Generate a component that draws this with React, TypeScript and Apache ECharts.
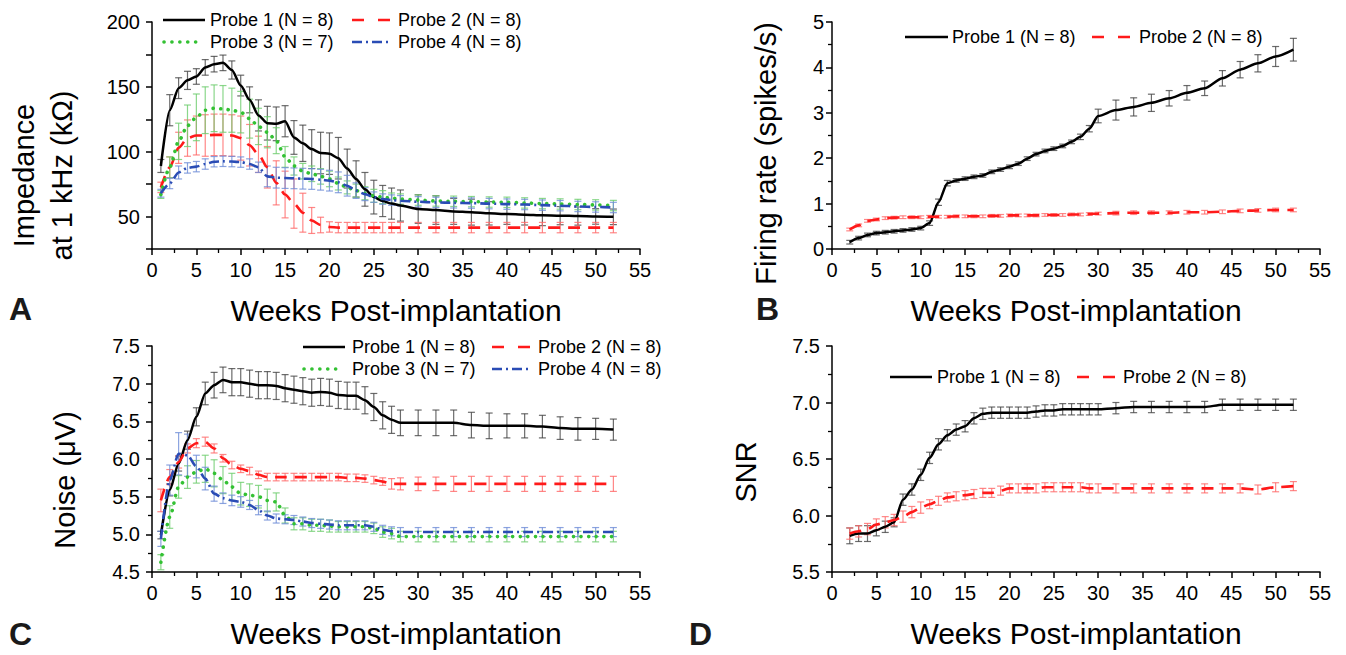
import React, { useEffect, useRef } from "react";
import * as echarts from "echarts";

// ---------- data ----------
const WEEKS_AC = [1, 2, 3, 4, 5, 6, 7, 8, 9, 10, 11, 12, 13, 14, 15, 16, 17, 18, 19, 20, 21, 22, 23, 24, 25, 26, 27, 28, 30, 32, 34, 36, 38, 40, 42, 44, 46, 48, 50, 52];
const WEEKS_BD = [2, 3, 4, 5, 6, 7, 8, 9, 10, 11, 12, 13, 14, 15, 16, 17, 18, 19, 20, 21, 22, 23, 24, 25, 26, 27, 28, 29, 30, 32, 34, 36, 38, 40, 42, 44, 46, 48, 50, 52];

const X_TICKS = [0, 5, 10, 15, 20, 25, 30, 35, 40, 45, 50, 55];

// Panel A: impedance (kOhm)
const A_P1 = [89, 132, 149, 155, 158, 165, 167.5, 168.5, 163, 151, 140, 128, 122, 121.5, 123.5, 111, 106.5, 102, 99, 98.5, 95, 87, 79, 71, 65, 62, 60, 58.5, 55.8, 55, 54, 53.4, 52.5, 52, 51.5, 51, 50.7, 50.4, 50.1, 49.8];
const A_P1_ERR = [5, 12, 8, 7, 6, 6, 6, 6, 7, 8, 10, 12, 13, 13, 12, 13, 14, 15, 16, 16, 16, 15, 14, 13, 13, 12, 12, 12, 11, 11, 10, 10, 9, 8, 8, 8, 7, 7, 6, 6];
const A_P2 = [72.5, 88, 103, 110.5, 112.5, 112.5, 113, 113, 112.5, 110.5, 105, 98, 88, 76, 67, 60, 53, 47, 43.5, 42, 41.5, 41.5, 41.5, 41.5, 41.5, 41.5, 41.5, 41.5, 41.5, 41.5, 41.5, 41.5, 41.5, 41.5, 41.5, 41.5, 41.5, 41.5, 41.5, 41.5];
const A_P2_ERR = [4, 8, 12, 14, 15, 16, 16, 16, 16, 17, 16, 14, 16, 17, 18, 19, 15, 10, 6, 4, 4, 4, 4, 4, 4, 4, 4, 4, 4, 4, 4, 4, 4, 4, 4, 4, 4, 4, 4, 4];
const A_P3 = [67, 88, 108, 120, 126.5, 132, 133.5, 133, 132, 130.5, 125.5, 119.5, 115, 108.5, 96, 89, 85, 83, 81, 79, 75.5, 72.5, 70, 68, 66, 65, 64.2, 63.5, 62.7, 62, 61.8, 61.5, 61.2, 61, 60.5, 60, 59.7, 59.3, 59, 58.5];
const A_P3_ERR = [3, 8, 14, 16, 18, 18, 18, 18, 17, 16, 15, 14, 12, 10, 8, 7, 6, 6, 6, 6, 5, 5, 5, 5, 5, 5, 4, 4, 4, 4, 4, 4, 4, 4, 4, 4, 4, 4, 4, 4];
const A_P4 = [68, 75.5, 84, 87.5, 88.5, 90.5, 92.3, 92.6, 92.4, 92, 90.5, 88, 81, 80, 79.7, 79.5, 79.2, 79, 78.4, 77.7, 76.4, 73.8, 70, 67.3, 65, 63.5, 62.7, 62.2, 61.4, 60.9, 60.6, 60.4, 60, 59.6, 59.3, 58.8, 58.4, 57.8, 57.4, 57];
const A_P4_ERR = [3, 4, 5, 4, 4, 4, 4, 4, 4, 4, 4, 4, 8, 8, 8, 8, 8, 8, 8, 8, 8, 8, 6, 5, 4, 4, 4, 4, 4, 4, 4, 4, 4, 4, 4, 4, 4, 4, 4, 4];

// Panel B: firing rate (spikes/s)
const B_P1 = [0.15, 0.24, 0.31, 0.35, 0.37, 0.39, 0.41, 0.43, 0.46, 0.57, 1.03, 1.45, 1.51, 1.55, 1.59, 1.62, 1.7, 1.75, 1.81, 1.88, 1.99, 2.09, 2.16, 2.21, 2.27, 2.36, 2.47, 2.65, 2.93, 3.06, 3.13, 3.22, 3.32, 3.44, 3.54, 3.76, 3.95, 4.09, 4.24, 4.39];
const B_P1_ERR = [0.04, 0.04, 0.04, 0.04, 0.04, 0.04, 0.04, 0.04, 0.04, 0.05, 0.07, 0.06, 0.04, 0.04, 0.04, 0.04, 0.04, 0.04, 0.04, 0.04, 0.04, 0.04, 0.04, 0.04, 0.04, 0.04, 0.06, 0.07, 0.15, 0.22, 0.2, 0.19, 0.17, 0.16, 0.16, 0.17, 0.18, 0.19, 0.22, 0.25];
const B_P2 = [0.43, 0.52, 0.62, 0.65, 0.68, 0.69, 0.7, 0.7, 0.7, 0.71, 0.71, 0.71, 0.72, 0.72, 0.72, 0.72, 0.73, 0.73, 0.74, 0.74, 0.74, 0.74, 0.75, 0.75, 0.75, 0.76, 0.76, 0.77, 0.78, 0.79, 0.8, 0.8, 0.8, 0.81, 0.81, 0.82, 0.84, 0.85, 0.86, 0.86];
const B_P2_ERR = [0.03, 0.03, 0.03, 0.03, 0.03, 0.03, 0.03, 0.03, 0.03, 0.03, 0.03, 0.03, 0.03, 0.03, 0.03, 0.03, 0.03, 0.03, 0.03, 0.03, 0.03, 0.03, 0.03, 0.03, 0.03, 0.03, 0.03, 0.03, 0.03, 0.04, 0.04, 0.04, 0.04, 0.04, 0.04, 0.04, 0.04, 0.04, 0.04, 0.04];

// Panel C: noise (uV)
const C_P1 = [4.99, 5.59, 5.94, 6.25, 6.56, 6.87, 6.98, 7.05, 7.02, 7.02, 7.0, 6.98, 6.98, 6.97, 6.94, 6.92, 6.9, 6.88, 6.89, 6.88, 6.85, 6.84, 6.84, 6.78, 6.69, 6.58, 6.52, 6.48, 6.48, 6.48, 6.48, 6.45, 6.44, 6.44, 6.44, 6.43, 6.41, 6.4, 6.4, 6.39];
const C_P1_ERR = [0.05, 0.08, 0.1, 0.12, 0.12, 0.15, 0.17, 0.17, 0.18, 0.18, 0.18, 0.18, 0.18, 0.18, 0.18, 0.18, 0.18, 0.18, 0.18, 0.18, 0.18, 0.18, 0.18, 0.18, 0.18, 0.18, 0.18, 0.17, 0.17, 0.17, 0.17, 0.17, 0.17, 0.16, 0.16, 0.15, 0.15, 0.15, 0.14, 0.14];
const C_P2 = [5.45, 5.76, 5.96, 6.14, 6.21, 6.23, 6.14, 6.01, 5.92, 5.87, 5.84, 5.79, 5.76, 5.76, 5.76, 5.76, 5.76, 5.76, 5.76, 5.76, 5.76, 5.75, 5.75, 5.74, 5.72, 5.7, 5.67, 5.67, 5.67, 5.67, 5.67, 5.67, 5.67, 5.67, 5.67, 5.67, 5.67, 5.67, 5.67, 5.67];
const C_P2_ERR = [0.15, 0.1, 0.08, 0.06, 0.06, 0.06, 0.06, 0.05, 0.05, 0.05, 0.05, 0.05, 0.05, 0.05, 0.05, 0.05, 0.05, 0.05, 0.05, 0.05, 0.05, 0.05, 0.05, 0.05, 0.05, 0.05, 0.07, 0.08, 0.09, 0.09, 0.1, 0.1, 0.1, 0.1, 0.1, 0.1, 0.1, 0.1, 0.1, 0.1];
const C_P3 = [4.63, 5.23, 5.63, 5.76, 5.83, 5.87, 5.81, 5.72, 5.63, 5.54, 5.52, 5.5, 5.45, 5.43, 5.25, 5.14, 5.14, 5.12, 5.12, 5.11, 5.1, 5.1, 5.1, 5.1, 5.08, 5.03, 5.01, 4.97, 4.97, 4.97, 4.97, 4.97, 4.97, 4.97, 4.97, 4.97, 4.97, 4.97, 4.97, 4.97];
const C_P3_ERR = [0.1, 0.15, 0.15, 0.15, 0.15, 0.18, 0.18, 0.18, 0.18, 0.15, 0.15, 0.15, 0.15, 0.12, 0.1, 0.08, 0.08, 0.08, 0.08, 0.08, 0.07, 0.07, 0.07, 0.07, 0.07, 0.07, 0.07, 0.07, 0.07, 0.07, 0.07, 0.07, 0.07, 0.07, 0.07, 0.07, 0.07, 0.07, 0.07, 0.07];
const C_P4 = [4.94, 5.72, 6.07, 6.05, 5.9, 5.74, 5.54, 5.48, 5.45, 5.43, 5.39, 5.32, 5.25, 5.21, 5.2, 5.19, 5.17, 5.15, 5.14, 5.13, 5.12, 5.12, 5.12, 5.12, 5.1, 5.06, 5.04, 5.03, 5.03, 5.03, 5.03, 5.03, 5.03, 5.03, 5.03, 5.03, 5.03, 5.03, 5.03, 5.03];
const C_P4_ERR = [0.1, 0.2, 0.28, 0.28, 0.15, 0.15, 0.1, 0.07, 0.07, 0.07, 0.06, 0.06, 0.06, 0.06, 0.06, 0.06, 0.06, 0.06, 0.06, 0.06, 0.06, 0.06, 0.06, 0.06, 0.06, 0.06, 0.06, 0.06, 0.06, 0.06, 0.06, 0.06, 0.06, 0.06, 0.06, 0.06, 0.06, 0.06, 0.06, 0.06];

// Panel D: SNR
const D_P1 = [5.82, 5.84, 5.84, 5.87, 5.9, 5.94, 6.14, 6.23, 6.36, 6.51, 6.63, 6.71, 6.76, 6.79, 6.86, 6.9, 6.91, 6.91, 6.91, 6.91, 6.91, 6.92, 6.93, 6.93, 6.94, 6.94, 6.94, 6.94, 6.94, 6.95, 6.96, 6.96, 6.96, 6.96, 6.96, 6.98, 6.98, 6.98, 6.98, 6.98];
const D_P1_ERR = [0.07, 0.07, 0.07, 0.05, 0.05, 0.04, 0.05, 0.05, 0.05, 0.05, 0.05, 0.05, 0.05, 0.05, 0.05, 0.05, 0.05, 0.05, 0.05, 0.05, 0.05, 0.05, 0.05, 0.05, 0.05, 0.05, 0.05, 0.05, 0.05, 0.05, 0.05, 0.05, 0.05, 0.05, 0.05, 0.05, 0.05, 0.05, 0.05, 0.05];
const D_P2 = [5.84, 5.86, 5.88, 5.92, 5.94, 5.96, 5.99, 6.03, 6.07, 6.1, 6.13, 6.16, 6.17, 6.18, 6.19, 6.2, 6.2, 6.22, 6.24, 6.24, 6.24, 6.24, 6.25, 6.25, 6.25, 6.25, 6.25, 6.24, 6.24, 6.24, 6.24, 6.24, 6.24, 6.24, 6.24, 6.24, 6.24, 6.23, 6.25, 6.26];
const D_P2_ERR = [0.05, 0.05, 0.05, 0.05, 0.05, 0.05, 0.05, 0.05, 0.05, 0.04, 0.04, 0.04, 0.04, 0.04, 0.04, 0.04, 0.04, 0.04, 0.04, 0.04, 0.04, 0.04, 0.04, 0.04, 0.04, 0.04, 0.04, 0.04, 0.04, 0.04, 0.04, 0.04, 0.04, 0.04, 0.04, 0.04, 0.04, 0.04, 0.04, 0.04];

const NAMES = ["Probe 1 (N = 8)", "Probe 2 (N = 8)", "Probe 3 (N = 7)", "Probe 4 (N = 8)"];
const PANEL_LETTERS = ["A", "B", "C", "D"];
const X_TITLE = "Weeks Post-implantation";
const Y_TITLES = ["Impedance\nat 1 kHz (k\u03A9)", "Firing rate (spikes/s)", "Noise (\u03BCV)", "SNR"];

// ---------- styles ----------
const FONT = "'Liberation Sans', Arial, Helvetica, sans-serif";
const PROBE_STYLE = [
  { color: "#000000", bar: "rgba(70,70,70,0.8)", width: 2.5, type: "solid" as any, cap: "butt", legendDash: null as any },
  { color: "#ff1a1a", bar: "rgba(255,105,105,0.8)", width: 2.6, type: [12, 8], cap: "butt", legendDash: [12, 14] },
  { color: "#33c133", bar: "rgba(110,205,110,0.8)", width: 3.6, type: [0.1, 7.5], cap: "round", legendDash: [0.1, 7.8] },
  { color: "#2a4cb5", bar: "rgba(110,140,215,0.8)", width: 2.6, type: [10, 4, 2, 4], cap: "butt", legendDash: [10, 4, 2, 4] },
];

const GRIDS = [
  { left: 152, top: 22, width: 488, height: 227 },
  { left: 832, top: 22, width: 488, height: 227 },
  { left: 152, top: 346, width: 488, height: 226 },
  { left: 832, top: 346, width: 488, height: 226 },
];

type Legend = { probe: number; x1: number; x2: number; tx: number; y: number };
const LEGENDS: Legend[] = [
  { probe: 0, x1: 163, x2: 205, tx: 210, y: 20 },
  { probe: 1, x1: 352, x2: 390, tx: 398, y: 20 },
  { probe: 2, x1: 164, x2: 202, tx: 210, y: 42 },
  { probe: 3, x1: 352, x2: 390, tx: 398, y: 42 },
  { probe: 0, x1: 905, x2: 948, tx: 952, y: 37 },
  { probe: 1, x1: 1092, x2: 1132, tx: 1139, y: 37 },
  { probe: 0, x1: 303, x2: 345, tx: 352, y: 347 },
  { probe: 1, x1: 492, x2: 530, tx: 538, y: 347 },
  { probe: 2, x1: 304, x2: 343, tx: 352, y: 369 },
  { probe: 3, x1: 492, x2: 530, tx: 538, y: 369 },
  { probe: 0, x1: 890, x2: 932, tx: 937, y: 377 },
  { probe: 1, x1: 1077, x2: 1115, tx: 1123, y: 377 },
];

const LETTER_POS = [
  { x: 9, y: 309 },
  { x: 756, y: 309 },
  { x: 9, y: 634 },
  { x: 689, y: 634 },
];

const PANELS = [
  {
    weeks: WEEKS_AC,
    series: [[A_P1, A_P1_ERR], [A_P2, A_P2_ERR], [A_P3, A_P3_ERR], [A_P4, A_P4_ERR]],
  },
  { weeks: WEEKS_BD, series: [[B_P1, B_P1_ERR], [B_P2, B_P2_ERR]] },
  {
    weeks: WEEKS_AC,
    series: [[C_P1, C_P1_ERR], [C_P2, C_P2_ERR], [C_P3, C_P3_ERR], [C_P4, C_P4_ERR]],
  },
  { weeks: WEEKS_BD, series: [[D_P1, D_P1_ERR], [D_P2, D_P2_ERR]] },
];

function errorRenderer(color: string) {
  return (params: any, api: any) => {
    const x = api.value(0);
    const y = api.value(1);
    const e = api.value(2);
    const top = api.coord([x, y + e]);
    const bot = api.coord([x, y - e]);
    const hw = 3.5;
    const style = { stroke: color, lineWidth: 1.2, fill: null };
    return {
      type: "group",
      children: [
        { type: "line", shape: { x1: top[0], y1: top[1], x2: bot[0], y2: bot[1] }, style },
        { type: "line", shape: { x1: top[0] - hw, y1: top[1], x2: top[0] + hw, y2: top[1] }, style },
        { type: "line", shape: { x1: bot[0] - hw, y1: bot[1], x2: bot[0] + hw, y2: bot[1] }, style },
      ],
    };
  };
}

function axisCommon() {
  return {
    axisLine: { show: true, onZero: false, lineStyle: { color: "#000", width: 1.5 } },
    axisTick: { show: true, inside: false, length: 6, lineStyle: { color: "#000", width: 1.5 } },
    splitLine: { show: false },
    axisLabel: { color: "#000", fontSize: 20, fontFamily: FONT },
  };
}

function buildOption() {
  const xAxis = GRIDS.map((_, i) => {
    const c = axisCommon();
    return {
      ...c,
      gridIndex: i,
      type: "value",
      min: X_TICKS[0],
      max: X_TICKS[X_TICKS.length - 1],
      interval: X_TICKS[1] - X_TICKS[0],
      minorTick: { show: true, splitNumber: 2, length: 4, lineStyle: { color: "#000", width: 1.3 } },
      axisLabel: { ...c.axisLabel, margin: 11 },
      name: X_TITLE,
      nameLocation: "middle",
      nameGap: 46,
      nameTextStyle: { color: "#000", fontSize: 30, fontFamily: FONT },
    };
  });

  const yBase = (i: number) => ({ ...axisCommon(), gridIndex: i, type: "value" });
  const yAxis = [
    {
      ...yBase(0),
      min: 25,
      max: 200,
      interval: 25,
      axisLabel: { ...axisCommon().axisLabel, margin: 12, formatter: (v: number) => (v % 50 === 0 ? String(v) : "") },
      name: Y_TITLES[0],
      nameLocation: "middle",
      nameRotate: 90,
      nameGap: 71,
      nameTextStyle: { color: "#000", fontSize: 29, lineHeight: 38, fontFamily: FONT, padding: [0, 80, 0, 0] },
    },
    {
      ...yBase(1),
      min: 0,
      max: 5,
      interval: 1,
      minorTick: { show: true, splitNumber: 2, length: 4, lineStyle: { color: "#000", width: 1.3 } },
      axisLabel: { ...axisCommon().axisLabel, margin: 8 },
      name: Y_TITLES[1],
      nameLocation: "middle",
      nameRotate: 90,
      nameGap: 49,
      nameTextStyle: { color: "#000", fontSize: 29, lineHeight: 34, fontFamily: FONT, padding: [0, 36, 0, 0] },
    },
    {
      ...yBase(2),
      min: 4.5,
      max: 7.5,
      interval: 0.5,
      minorTick: { show: true, splitNumber: 2, length: 4, lineStyle: { color: "#000", width: 1.3 } },
      axisLabel: { ...axisCommon().axisLabel, margin: 12, formatter: (v: number) => v.toFixed(1) },
      name: Y_TITLES[2],
      nameLocation: "middle",
      nameRotate: 90,
      nameGap: 70,
      nameTextStyle: { color: "#000", fontSize: 29, lineHeight: 34, fontFamily: FONT, padding: [0, 42, 0, 0] },
    },
    {
      ...yBase(3),
      min: 5.5,
      max: 7.5,
      interval: 0.5,
      minorTick: { show: true, splitNumber: 2, length: 4, lineStyle: { color: "#000", width: 1.3 } },
      axisLabel: { ...axisCommon().axisLabel, margin: 12, formatter: (v: number) => v.toFixed(1) },
      name: Y_TITLES[3],
      nameLocation: "middle",
      nameRotate: 90,
      nameGap: 69,
      nameTextStyle: { color: "#000", fontSize: 29, lineHeight: 34, fontFamily: FONT, padding: [0, 26, 0, 0] },
    },
  ];

  const series: any[] = [];
  PANELS.forEach((panel, pi) => {
    panel.series.forEach(([vals, errs], si) => {
      const st = PROBE_STYLE[si];
      series.push({
        name: NAMES[si] + " SEM",
        type: "custom",
        xAxisIndex: pi,
        yAxisIndex: pi,
        z: 2,
        silent: true,
        encode: { x: 0, y: 1 },
        renderItem: errorRenderer(st.bar),
        data: panel.weeks.map((w, k) => [w, vals[k], errs[k]]),
      });
    });
    panel.series.forEach(([vals], si) => {
      const st = PROBE_STYLE[si];
      series.push({
        name: NAMES[si],
        type: "line",
        xAxisIndex: pi,
        yAxisIndex: pi,
        z: 3,
        symbol: "none",
        showSymbol: false,
        smooth: 0.25,
        smoothMonotone: "x",
        lineStyle: { color: st.color, width: st.width, type: st.type, cap: st.cap },
        itemStyle: { color: st.color },
        data: panel.weeks.map((w, k) => [w, vals[k]]),
      });
    });
  });

  const graphic: any[] = [];
  LEGENDS.forEach((lg) => {
    const st = PROBE_STYLE[lg.probe];
    graphic.push({
      type: "line",
      shape: { x1: lg.x1, y1: lg.y, x2: lg.x2, y2: lg.y },
      style: { stroke: st.color, lineWidth: st.width, lineDash: st.legendDash, lineCap: st.cap },
    });
    graphic.push({
      type: "text",
      x: lg.tx,
      y: lg.y,
      style: { text: NAMES[lg.probe], fill: "#000", fontSize: 18, fontFamily: FONT, verticalAlign: "middle", align: "left" },
    });
  });
  LETTER_POS.forEach((p, i) => {
    graphic.push({
      type: "text",
      x: p.x,
      y: p.y,
      style: { text: PANEL_LETTERS[i], fill: "#1a1a1a", fontSize: 32, fontWeight: "bold", fontFamily: FONT, verticalAlign: "middle", align: "left" },
    });
  });

  return {
    animation: false,
    backgroundColor: "#ffffff",
    textStyle: { fontFamily: FONT },
    grid: GRIDS.map((g) => ({ ...g, containLabel: false, outerBoundsMode: "none" })),
    xAxis,
    yAxis,
    series,
    graphic,
  };
}

export default function App() {
  const ref = useRef<HTMLDivElement>(null);
  useEffect(() => {
    if (!ref.current) return;
    const chart = echarts.init(ref.current, null, { renderer: "svg" });
    chart.setOption(buildOption() as any);
    return () => chart.dispose();
  }, []);
  return (
    <div
      ref={ref}
      style={{ position: "fixed", left: 0, top: 0, width: 1346, height: 655, background: "#fff" }}
    />
  );
}
